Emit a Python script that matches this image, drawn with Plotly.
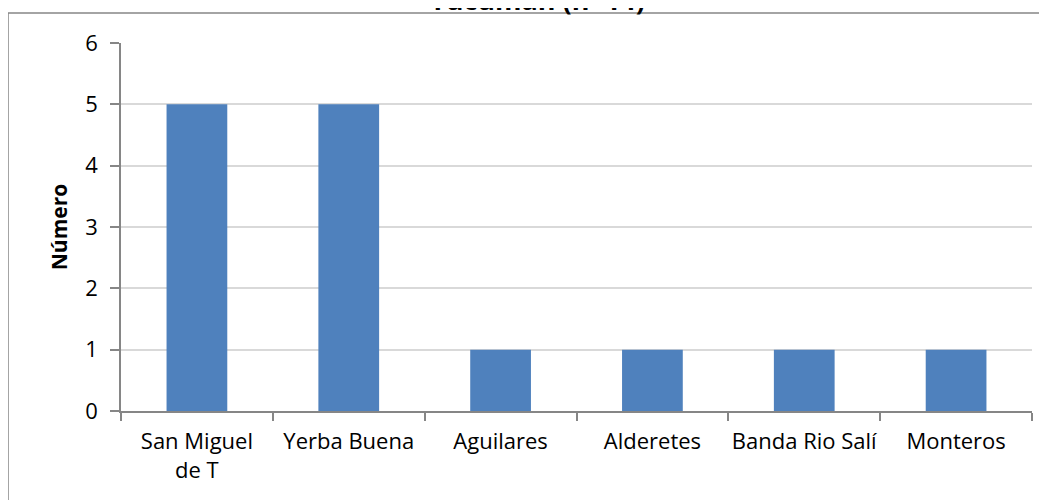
import plotly.graph_objects as go

categories = ["San Miguel<br>de T", "Yerba Buena", "Aguilares", "Alderetes", "Banda Rio Salí", "Monteros"]
values = [5, 5, 1, 1, 1, 1]
title_text = "Tucumán (n=14)"
y_title = "Número"
y_ticks = [0, 1, 2, 3, 4, 5, 6]

# page body has an 8px margin; compensate so the plot lands where the reference has it
OFF = 8
W, H = 1047, 500
ml, mr, mt, mb = 121 - OFF, 23, 43 - OFF, 97
pw = W - ml - mr
ph = H - mt - mb

def px_x(x):
    return (x - OFF - ml) / pw

def px_y(y):
    return 1 - (y - OFF - mt) / ph

font = "Open Sans"

fig = go.Figure(go.Bar(
    x=categories, y=values,
    marker=dict(color="#4F81BD", line=dict(width=0)),
    width=0.4,
))

fig.update_layout(
    width=W, height=H,
    margin=dict(l=ml, r=mr, t=mt, b=mb, autoexpand=False),
    paper_bgcolor="white", plot_bgcolor="white",
    showlegend=False,
    font=dict(family=font, size=22, color="black"),
    xaxis=dict(
        showline=True, linecolor="#868686", linewidth=1.5,
        ticks="outside", tickson="boundaries", ticklen=8, tickcolor="#868686", tickwidth=1.5,
        showgrid=False, tickfont=dict(family=font, size=22, color="black"),
        tickangle=0, automargin=False,
        ticklabelstandoff=10,
    ),
    yaxis=dict(
        range=[0, 6], tickvals=y_ticks,
        showline=True, linecolor="#868686", linewidth=1.5,
        ticks="outside", ticklen=9, tickcolor="#868686", tickwidth=1.5,
        showgrid=True, gridcolor="#D9D9D9", gridwidth=1.5,
        zeroline=False, automargin=False,
        tickfont=dict(family=font, size=22, color="black"),
        ticklabelstandoff=8,
        title=dict(text="<b>" + y_title + "</b>", font=dict(family=font, size=21, color="black"), standoff=12),
    ),
    shapes=[dict(
        type="rect", xref="paper", yref="paper",
        x0=px_x(8), x1=px_x(1100), y0=px_y(700), y1=px_y(13),
        line=dict(color="#868686", width=1.5), fillcolor="rgba(0,0,0,0)", layer="below",
    )],
    annotations=[dict(
        text="<b>" + title_text + "</b>", xref="paper", yref="paper",
        x=px_x(537), y=px_y(20), xanchor="center", yanchor="bottom",
        showarrow=False, font=dict(family=font, size=27, color="black"),
    )],
)

fig.write_html("out.html")
